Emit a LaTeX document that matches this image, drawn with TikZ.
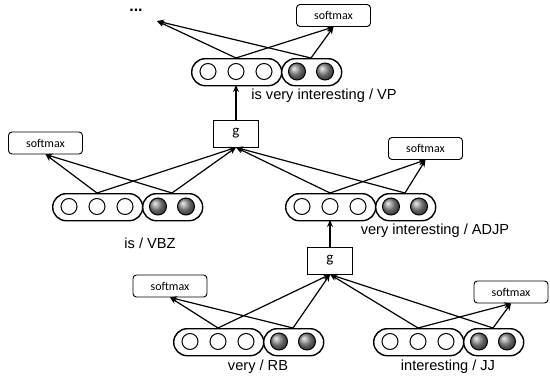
\documentclass[tikz,border=0pt]{standalone}
\usepackage{fontspec}
\setmainfont{Liberation Sans}
\newfontfamily\calib{Carlito}
\usetikzlibrary{arrows.meta,calc}
\tikzset{
  wcap/.style={draw, line width=1.4pt, rounded corners=13.5pt, minimum width=90pt, minimum height=27pt, inner sep=0pt, fill=white},
  gcap/.style={draw, line width=1.4pt, rounded corners=13.5pt, minimum width=60pt, minimum height=27pt, inner sep=0pt, fill=white},
  wdot/.style={draw, circle, line width=1pt, minimum size=16pt, inner sep=0pt, fill=white},
  gdot/.style={draw, circle, line width=1pt, minimum size=17pt, inner sep=0pt, shading=ball, ball color=gray!90},
  smx/.style={draw, rounded corners=3.5pt, line width=0.9pt, minimum width=74pt, minimum height=22pt, inner sep=0pt, font=\calib\fontsize{12}{12}\selectfont},
  gbox/.style={draw, line width=0.9pt, minimum width=45pt, minimum height=27pt, inner sep=0pt, font=\calib\fontsize{15}{15}\selectfont},
  lbl/.style={inner sep=0pt, font=\fontsize{14.6}{16}\selectfont},
  arr/.style={line width=1.2pt, -{Stealth[length=7pt,width=6pt]}},
}
\newcommand\vectr[3]{%
  \node[wcap,anchor=north west] (#1w) at (#2,#3) {};
  \node[gcap,anchor=north west] (#1g) at (#2+90,#3) {};
  \foreach \dx in {17,45,73} {\node[wdot] at (#2+\dx,#3+13.5) {};}
  \foreach \dx in {106,134} {\node[gdot] at (#2+\dx,#3+13.5) {};}
  \coordinate (#1a) at (#2+45,#3);
  \coordinate (#1b) at (#2+120,#3);
  \coordinate (#1c) at (#2+45,#3+27);
}
\begin{document}
\begin{tikzpicture}[x=1pt,y=-1pt]
\useasboundingbox (0,0) rectangle (550,383);
% vectors
\vectr{VP}{191}{58}
\vectr{VBZ}{52}{193}
\vectr{ADJP}{285}{193}
\vectr{RB}{173}{328}
\vectr{JJ}{373}{328}
% labels
\node[lbl] (lVP) at (324,96) {is very interesting / VP};
\node[lbl] (lVBZ) at (150,243) {is / VBZ};
\node[lbl] (lADJP) at (435,231) {very interesting / ADJP};
\node[lbl] (lRB) at (258,367) {very / RB};
\node[lbl] (lJJ) at (448,367) {interesting / JJ};
% softmax boxes
\node[smx] (sVP) at (333.5,15.5) {softmax};
\node[smx] (sVBZ) at (45.5,143) {softmax};
\node[smx] (sADJP) at (425.5,148.5) {softmax};
\node[smx] (sRB) at (170,286) {softmax};
\node[smx] (sJJ) at (511,292) {softmax};
% g boxes
\node[gbox] (g1) at (236,133.5) {g};
\node[gbox] (g2) at (330,260.5) {g};
% dots
\node[inner sep=0pt, anchor=base, font=\bfseries\fontsize{16}{16}\selectfont] (dots) at (136,11.5) {...};
\coordinate (more) at (157,21);
% arrows top
\draw[arr] (VPa) -- (more);
\draw[arr] (VPb) -- (more);
\draw[arr] (VPa) -- (sVP.south);
\draw[arr] (VPb) -- (sVP.south);
\draw[arr] (g1.north) -- (VPc);
% middle left
\draw[arr] (VBZa) -- (sVBZ.south);
\draw[arr] (VBZb) -- (sVBZ.south);
\draw[arr] (VBZa) -- (g1.south);
\draw[arr] (VBZb) -- (g1.south);
% middle right
\draw[arr] (ADJPa) -- (g1.south);
\draw[arr] (ADJPb) -- (g1.south);
\draw[arr] (ADJPa) -- (sADJP.south);
\draw[arr] (ADJPb) -- (sADJP.south);
\draw[arr] (g2.north) -- (ADJPc);
% bottom
\draw[arr] (RBa) -- (sRB.south);
\draw[arr] (RBb) -- (sRB.south);
\draw[arr] (RBa) -- (g2.south);
\draw[arr] (RBb) -- (g2.south);
\draw[arr] (JJa) -- (g2.south);
\draw[arr] (JJb) -- (g2.south);
\draw[arr] (JJa) -- (sJJ.south);
\draw[arr] (JJb) -- (sJJ.south);
\end{tikzpicture}
\end{document}
